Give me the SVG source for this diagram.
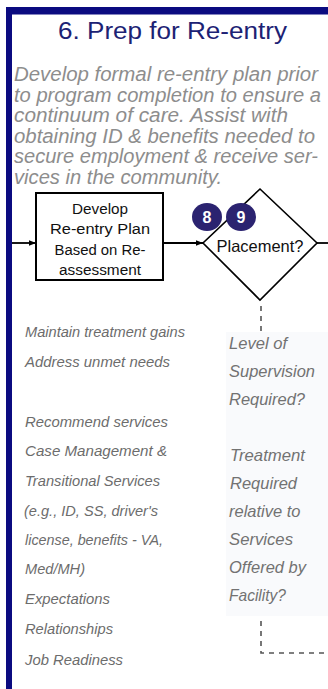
<svg xmlns="http://www.w3.org/2000/svg" width="328" height="689" viewBox="0 0 328 689">
  <defs>
    <marker id="arr" viewBox="0 0 8 8" refX="8" refY="4" markerWidth="7" markerHeight="7" markerUnits="userSpaceOnUse" orient="auto">
      <path d="M0,0.8 L8,4 L0,7.2 Z" fill="#000"/>
    </marker>
    <style>
      .frame { fill: #0b0b80; }
      .title { font-family: "Liberation Sans", Arial, sans-serif; font-size: 23px; fill: #1c2274; }
      .desc { font-family: "Liberation Sans", Arial, sans-serif; font-size: 19.5px; font-style: italic; fill: #8d8d8d; }
      .box { fill: #fff; stroke: #000; stroke-width: 2; }
      .dia { fill: #fff; stroke: #000; stroke-width: 1.6; }
      .lbl { font-family: "Liberation Sans", Arial, sans-serif; font-size: 15.5px; fill: #111; text-anchor: middle; }
      .badge { fill: #2b2370; }
      .num { font-family: "Liberation Sans", Arial, sans-serif; font-size: 16px; font-weight: bold; fill: #fff; text-anchor: middle; }
      .wire { fill: none; stroke: #000; stroke-width: 1.8; }
      .dash { fill: none; stroke: #555; stroke-width: 1.6; stroke-dasharray: 5 5; }
      .note { font-family: "Liberation Sans", Arial, sans-serif; font-size: 15px; font-style: italic; fill: #6c6c6c; }
      .q { font-family: "Liberation Sans", Arial, sans-serif; font-size: 16.5px; font-style: italic; fill: #727272; }
    </style>
  </defs>

  <rect width="328" height="689" fill="#fff"/>

  <g id="frame">
    <rect class="frame" x="6" y="7" width="322" height="7.5"/>
    <rect class="frame" x="6" y="7" width="6" height="682"/>
  </g>

  <g id="panels">
    <rect x="226" y="332" width="102" height="284" fill="#f9fafc"/>
  </g>

  <g id="title">
    <text class="title" x="58" y="38.5" textLength="229" lengthAdjust="spacingAndGlyphs">6. Prep for Re-entry</text>
  </g>

  <g id="description">
    <text class="desc" x="14" y="81" textLength="304" lengthAdjust="spacingAndGlyphs">Develop formal re-entry plan prior</text>
    <text class="desc" x="14" y="101.5" textLength="307" lengthAdjust="spacingAndGlyphs">to program completion to ensure a</text>
    <text class="desc" x="14" y="122" textLength="274" lengthAdjust="spacingAndGlyphs">continuum of care.  Assist with</text>
    <text class="desc" x="14" y="142.5" textLength="301" lengthAdjust="spacingAndGlyphs">obtaining ID &amp; benefits needed to</text>
    <text class="desc" x="14" y="163" textLength="304" lengthAdjust="spacingAndGlyphs">secure employment &amp; receive ser-</text>
    <text class="desc" x="14" y="183.5" textLength="208" lengthAdjust="spacingAndGlyphs">vices in the community.</text>
  </g>

  <g id="connectors">
    <line class="wire" x1="12" y1="243" x2="36" y2="243" marker-end="url(#arr)"/>
    <line class="wire" x1="163" y1="243" x2="203" y2="243" marker-end="url(#arr)"/>
    <line class="wire" x1="317" y1="243" x2="328" y2="243"/>
    <line class="dash" x1="261" y1="306" x2="261" y2="334"/>
    <path class="dash" d="M261,621 V653 H328"/>
  </g>

  <g id="develop">
    <rect class="box" x="36" y="193" width="127" height="87"/>
    <text class="lbl" x="100" y="213.5" textLength="56" lengthAdjust="spacingAndGlyphs">Develop</text>
    <text class="lbl" x="100" y="234" textLength="100" lengthAdjust="spacingAndGlyphs">Re-entry Plan</text>
    <text class="lbl" x="100" y="254.5" textLength="91" lengthAdjust="spacingAndGlyphs">Based on Re-</text>
    <text class="lbl" x="100" y="275" textLength="82" lengthAdjust="spacingAndGlyphs">assessment</text>
  </g>

  <g id="placement">
    <path class="dia" d="M260,189 L317,243 L260,300 L203,243 Z"/>
    <text class="lbl" x="260" y="252" style="font-size:16.5px" textLength="87" lengthAdjust="spacingAndGlyphs">Placement?</text>
  </g>

  <g id="badge-8">
    <ellipse class="badge" cx="207" cy="217" rx="15" ry="14"/>
    <text class="num" x="207" y="222.5">8</text>
  </g>
  <g id="badge-9">
    <ellipse class="badge" cx="241" cy="217" rx="15" ry="14"/>
    <text class="num" x="241" y="222.5">9</text>
  </g>

  <g id="notes-left">
    <text class="note" x="25" y="337" textLength="160" lengthAdjust="spacingAndGlyphs">Maintain treatment gains</text>
    <text class="note" x="25" y="366.5" textLength="145" lengthAdjust="spacingAndGlyphs">Address unmet needs</text>
    <text class="note" x="25" y="426.5" textLength="143" lengthAdjust="spacingAndGlyphs">Recommend services</text>
    <text class="note" x="25" y="456" textLength="142" lengthAdjust="spacingAndGlyphs">Case Management &amp;</text>
    <text class="note" x="25" y="485.5" textLength="135" lengthAdjust="spacingAndGlyphs">Transitional Services</text>
    <text class="note" x="24" y="515.5" textLength="134" lengthAdjust="spacingAndGlyphs">(e.g., ID, SS, driver's</text>
    <text class="note" x="25" y="545" textLength="138" lengthAdjust="spacingAndGlyphs">license, benefits - VA,</text>
    <text class="note" x="25" y="574" textLength="60" lengthAdjust="spacingAndGlyphs">Med/MH)</text>
    <text class="note" x="25" y="604" textLength="85" lengthAdjust="spacingAndGlyphs">Expectations</text>
    <text class="note" x="25" y="633.5" textLength="88" lengthAdjust="spacingAndGlyphs">Relationships</text>
    <text class="note" x="25" y="665" textLength="98" lengthAdjust="spacingAndGlyphs">Job Readiness</text>
  </g>

  <g id="notes-right">
    <text class="q" x="229" y="349" textLength="58" lengthAdjust="spacingAndGlyphs">Level of</text>
    <text class="q" x="229" y="377" textLength="86" lengthAdjust="spacingAndGlyphs">Supervision</text>
    <text class="q" x="229" y="405" textLength="76" lengthAdjust="spacingAndGlyphs">Required?</text>
    <text class="q" x="230" y="461" textLength="75" lengthAdjust="spacingAndGlyphs">Treatment</text>
    <text class="q" x="230" y="489" textLength="67" lengthAdjust="spacingAndGlyphs">Required</text>
    <text class="q" x="229" y="517" textLength="71.5" lengthAdjust="spacingAndGlyphs">relative to</text>
    <text class="q" x="229" y="545" textLength="64" lengthAdjust="spacingAndGlyphs">Services</text>
    <text class="q" x="229" y="573" textLength="77" lengthAdjust="spacingAndGlyphs">Offered by</text>
    <text class="q" x="229" y="601" textLength="57" lengthAdjust="spacingAndGlyphs">Facility?</text>
  </g>
</svg>
